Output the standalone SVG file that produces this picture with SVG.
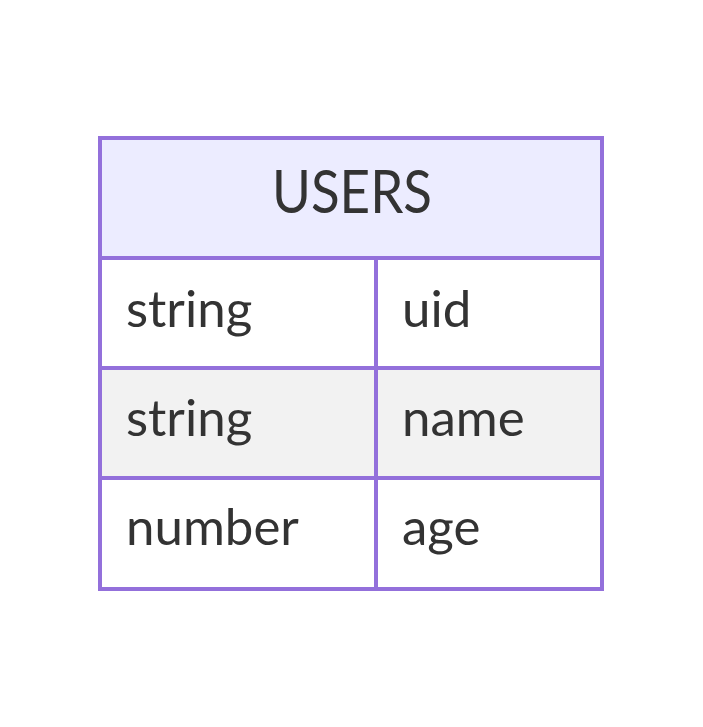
<svg xmlns="http://www.w3.org/2000/svg" width="703" height="727" viewBox="0 0 703 727">
<style>
.box{stroke:#9370DB;stroke-width:4}
.t{font-family:Lato,"Liberation Sans",sans-serif;fill:#333}
.h{font-size:60px}
.a{font-size:51px}
</style>
<rect width="703" height="727" fill="#ffffff"/>
<g id="users">
<rect class="box" x="100" y="138" width="502" height="120" fill="#ECECFF"/>
<rect class="box" x="100" y="258" width="276" height="110" fill="#ffffff"/>
<rect class="box" x="376" y="258" width="226" height="110" fill="#ffffff"/>
<rect class="box" x="100" y="368" width="276" height="110" fill="#f2f2f2"/>
<rect class="box" x="376" y="368" width="226" height="110" fill="#f2f2f2"/>
<rect class="box" x="100" y="478" width="276" height="111" fill="#ffffff"/>
<rect class="box" x="376" y="478" width="226" height="111" fill="#ffffff"/>
<text class="t h" x="272" y="213" textLength="160" lengthAdjust="spacingAndGlyphs">USERS</text>
<text class="t a" x="126" y="327">string</text>
<text class="t a" x="402" y="327">uid</text>
<text class="t a" x="126" y="436">string</text>
<text class="t a" x="402" y="436">name</text>
<text class="t a" x="126" y="545">number</text>
<text class="t a" x="402" y="545">age</text>
</g>
<g id="connectors"></g>
</svg>
